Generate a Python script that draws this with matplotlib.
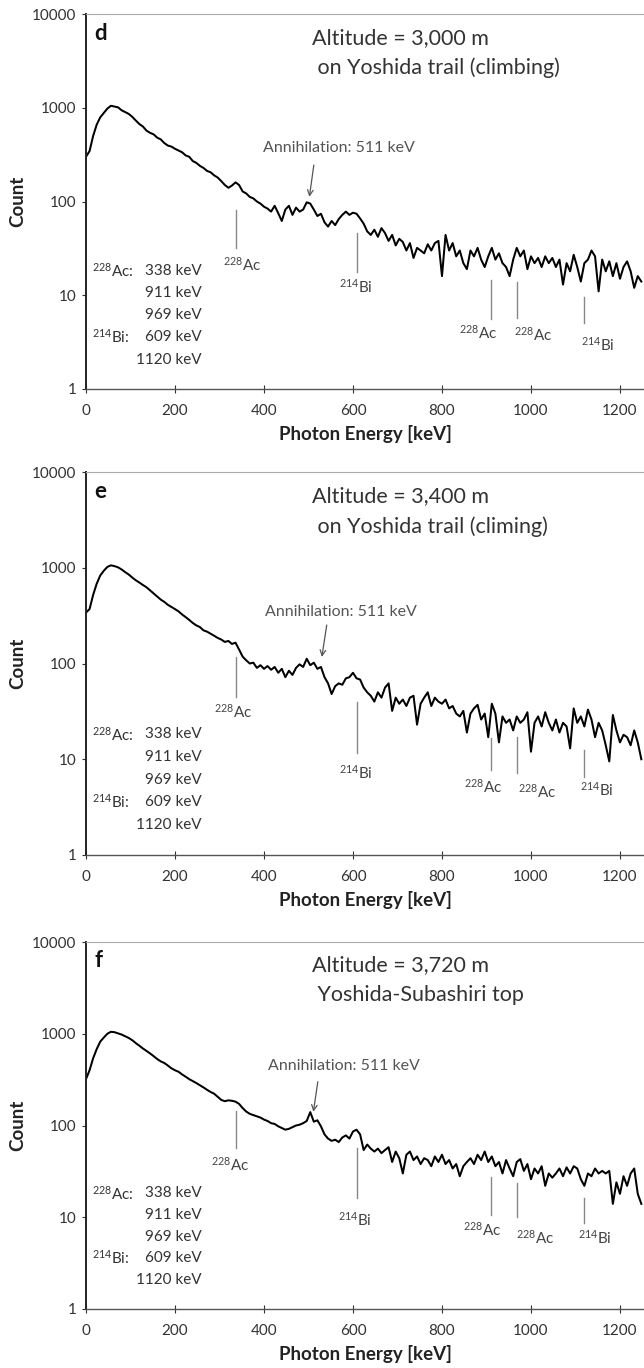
import numpy as np
import matplotlib.pyplot as plt

plt.rcParams['font.family'] = ['Lato', 'DejaVu Sans']
plt.rcParams['mathtext.default'] = 'regular'

# channel width of the spectra (keV)
STEP = 8

counts_d = [300, 345, 500, 660, 790, 880, 980, 1050, 1030, 1010, 940, 900, 860, 800, 730, 670,
            630, 570, 540, 520, 480, 460, 420, 395, 385, 365, 350, 335, 310, 300, 270, 258,
            240, 228, 212, 205, 190, 180, 165, 150, 140, 148, 160, 150, 128, 122, 112, 108,
            100, 95, 88, 84, 78, 90, 75, 62, 82, 90, 72, 86, 78, 82, 98, 95,
            82, 70, 74, 60, 54, 62, 56, 65, 72, 78, 72, 76, 74, 66, 58, 48,
            44, 50, 42, 52, 46, 38, 44, 34, 40, 37, 30, 36, 25, 32, 30, 28,
            35, 30, 36, 38, 16, 44, 30, 36, 26, 30, 22, 19, 30, 26, 32, 24,
            20, 26, 32, 24, 28, 22, 20, 16, 24, 32, 26, 30, 19, 26, 22, 25,
            20, 26, 22, 25, 20, 24, 13, 22, 18, 27, 20, 14, 22, 24, 30, 26,
            11, 24, 18, 23, 16, 22, 15, 20, 23, 18, 12, 16, 14]

counts_e = [340, 370, 520, 680, 830, 930, 1020, 1060, 1040, 1010, 960, 900, 850, 790, 740, 700,
            660, 625, 580, 540, 500, 465, 440, 410, 390, 370, 350, 325, 305, 285, 265, 250,
            240, 222, 215, 205, 195, 185, 178, 168, 172, 160, 165, 140, 118, 108, 100, 102,
            90, 96, 88, 94, 86, 92, 80, 88, 72, 84, 76, 90, 98, 92, 112, 96,
            102, 88, 92, 72, 62, 48, 58, 62, 60, 70, 72, 80, 70, 68, 56, 50,
            46, 40, 50, 44, 56, 62, 32, 44, 38, 42, 36, 44, 46, 23, 38, 44,
            50, 36, 44, 40, 38, 42, 34, 36, 30, 28, 32, 19, 30, 34, 37, 26,
            30, 17, 38, 30, 15, 28, 24, 26, 20, 28, 24, 26, 31, 12, 24, 28,
            22, 31, 24, 20, 26, 19, 24, 22, 13, 34, 24, 28, 22, 33, 26, 17,
            24, 20, 14, 9.5, 29, 20, 15, 18, 17, 14, 20, 15, 10]

counts_f = [320, 400, 540, 680, 820, 910, 1000, 1050, 1040, 1010, 980, 940, 900, 850, 790, 740,
            690, 650, 610, 570, 530, 500, 480, 450, 420, 400, 385, 360, 340, 320, 305, 290,
            275, 260, 245, 232, 222, 205, 190, 184, 188, 186, 182, 172, 155, 142, 134, 130,
            126, 122, 116, 112, 106, 104, 98, 94, 90, 92, 96, 100, 102, 106, 112, 140,
            110, 114, 98, 80, 72, 68, 70, 66, 74, 78, 72, 86, 90, 80, 54, 62,
            56, 52, 56, 50, 54, 58, 40, 52, 44, 30, 48, 52, 42, 46, 38, 44,
            42, 36, 46, 40, 48, 38, 42, 34, 38, 28, 36, 40, 44, 38, 48, 42,
            52, 40, 46, 36, 40, 30, 42, 34, 28, 40, 43, 32, 38, 26, 34, 30,
            36, 22, 30, 27, 30, 34, 28, 35, 30, 36, 34, 26, 22, 30, 28, 34,
            30, 32, 30, 32, 14, 24, 18, 28, 22, 30, 34, 18, 14]

panel_letters = ['d', 'e', 'f']
altitude_text = ['Altitude = 3,000 m', 'Altitude = 3,400 m', 'Altitude = 3,720 m']
place_text = [' on Yoshida trail (climbing)', ' on Yoshida trail (climing)', ' Yoshida-Subashiri top']

# gamma lines marked in every panel
peak_energy = [338, 609, 911, 969, 1120]
peak_label = [r'$^{228}$Ac', r'$^{214}$Bi', r'$^{228}$Ac', r'$^{228}$Ac', r'$^{214}$Bi']

# marker line ranges and label spots, per panel (counts / keV)
marker_top = [[81, 46, 14.5, 13.8, 9.6], [118, 40, 16.6, 17.2, 12.5], [145, 57, 27.5, 23.5, 16.3]]
marker_bottom = [[32, 17.7, 5.6, 5.7, 5.1], [45, 11.5, 7.7, 7.2, 6.6], [57, 16.3, 10.5, 10.1, 8.7]]
label_x = [[350, 607, 881, 1005, 1151], [330, 607, 892, 1013, 1148], [324, 604, 890, 1009, 1144]]
label_y = [[21, 12.2, 3.96, 3.8, 2.95], [31, 7.2, 5.2, 4.6, 4.8], [37, 9.3, 7.3, 6.0, 6.0]]

# annihilation arrow: text (left x, y), arrow tail and tip
annih_text = [(398, 370), (402, 347), (409, 450)]
annih_tail = [(512, 245), (541, 252), (521, 300)]
annih_tip = [(502, 112), (530, 117), (511, 141)]

list_prefix = [r'$^{228}$Ac:', '', '', r'$^{214}$Bi:', '']
list_value = ['338 keV', '911 keV', '969 keV', '609 keV', '1120 keV']

# axes box in pixels (top, bottom) for the 644 x 1368 figure
panel_px = [(14, 389), (472, 855), (942, 1309)]
W, H = 644, 1368
LEFT = 86

fig = plt.figure(figsize=(W / 100, H / 100), dpi=100)
all_counts = [counts_d, counts_e, counts_f]

for i in range(3):
    top, bottom = panel_px[i]
    ax = fig.add_axes([LEFT / W, 1 - bottom / H, (W - LEFT) / W, (bottom - top) / H])
    counts = np.array(all_counts[i], dtype=float)
    energy = np.arange(len(counts)) * STEP
    ax.plot(energy, counts, color='black', lw=1.45)
    ax.set_yscale('log')
    ax.set_ylim(1, 10000)
    ax.set_xlim(0, 1254)
    ax.set_xticks(range(0, 1201, 200))
    ax.set_yticks([1, 10, 100, 1000, 10000])
    ax.set_yticklabels(['1', '10', '100', '1000', '10000'])
    ax.minorticks_off()
    ax.tick_params(axis='x', direction='inout', length=6, width=0.8, labelsize=11,
                   colors='#333333', pad=7.5)
    ax.tick_params(axis='y', direction='out', length=3, width=0.8, labelsize=11,
                   colors='#333333', pad=4)
    ax.spines['right'].set_visible(False)
    ax.spines['top'].set_color('#aaaaaa')
    ax.spines['top'].set_linewidth(0.8)
    ax.spines['left'].set_color('#222222')
    ax.spines['left'].set_linewidth(1.4)
    ax.spines['bottom'].set_color('#555555')
    ax.spines['bottom'].set_linewidth(1.0)
    ax.set_xlabel('Photon Energy [keV]', fontsize=13.5, fontweight='bold', color='#222222',
                  labelpad=5)
    ax.set_ylabel('Count', fontsize=13.5, fontweight='bold', color='#222222', labelpad=4)

    ax.text(0.015, 0.949, panel_letters[i], transform=ax.transAxes, fontsize=16,
            fontweight='bold', va='center', ha='left', color='#111111')
    ax.text(0.405, 0.936, altitude_text[i], transform=ax.transAxes, fontsize=15.5,
            va='center', ha='left', color='#333333')
    ax.text(0.405, 0.856, place_text[i], transform=ax.transAxes, fontsize=15.5,
            va='center', ha='left', color='#333333')

    for k in range(len(peak_energy)):
        ax.plot([peak_energy[k], peak_energy[k]], [marker_bottom[i][k], marker_top[i][k]],
                color='#888888', lw=1.0)
        ax.text(label_x[i][k], label_y[i][k], peak_label[k], fontsize=11, color='#444444',
                ha='center', va='center')

    ax.text(annih_text[i][0], annih_text[i][1], 'Annihilation: 511 keV', fontsize=11.5,
            color='#555555', ha='left', va='center')
    ax.annotate('', xy=annih_tip[i], xytext=annih_tail[i],
                arrowprops=dict(arrowstyle='->', color='#555555', lw=0.9,
                                shrinkA=0, shrinkB=0))

    list_y = [0.315, 0.255, 0.197, 0.139, 0.078]
    for k in range(len(list_value)):
        if list_prefix[k]:
            ax.text(0.01, list_y[k], list_prefix[k], transform=ax.transAxes, fontsize=11,
                    color='#333333', ha='left', va='center')
        ax.text(0.207, list_y[k], list_value[k], transform=ax.transAxes, fontsize=11,
                color='#333333', ha='right', va='center')

fig.savefig('out.png', dpi=100, facecolor='white')
